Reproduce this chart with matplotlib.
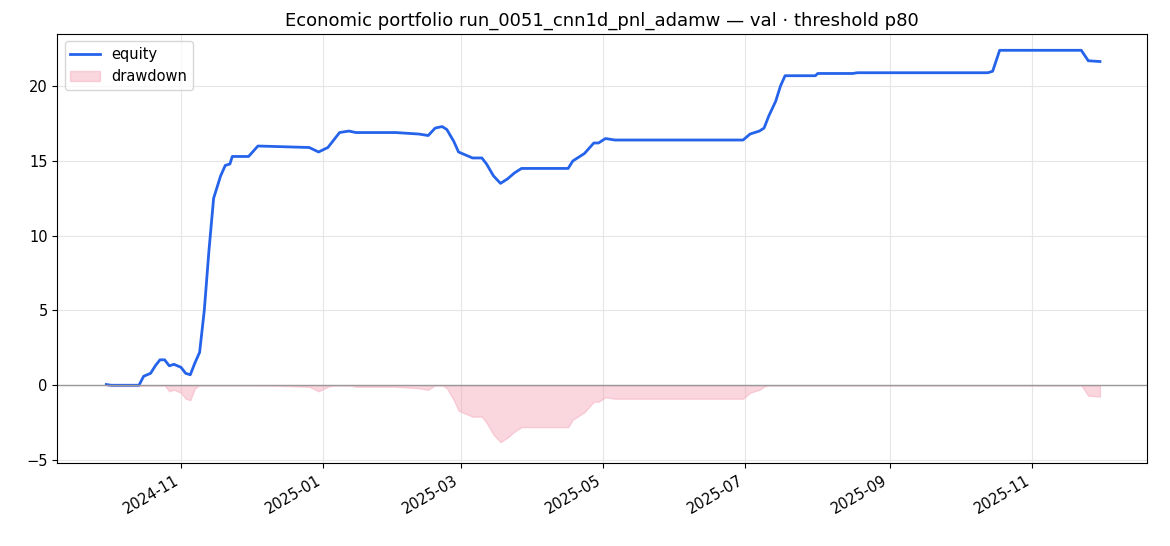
import matplotlib
matplotlib.use("Agg")
import matplotlib.pyplot as plt
import matplotlib.dates as mdates
import numpy as np
import pandas as pd

dates = ["2024-09-30","2024-10-02","2024-10-14","2024-10-16","2024-10-19","2024-10-21","2024-10-23",
"2024-10-25","2024-10-27","2024-10-29","2024-11-01","2024-11-03","2024-11-05","2024-11-07","2024-11-09",
"2024-11-11","2024-11-13","2024-11-15","2024-11-18","2024-11-20","2024-11-22","2024-11-23","2024-11-30",
"2024-12-04","2024-12-26","2024-12-30","2025-01-03","2025-01-06","2025-01-08","2025-01-12","2025-01-15",
"2025-02-01","2025-02-11","2025-02-15","2025-02-18","2025-02-21","2025-02-23","2025-02-26","2025-02-28",
"2025-03-03","2025-03-06","2025-03-10","2025-03-12","2025-03-15","2025-03-18","2025-03-21","2025-03-24",
"2025-03-27","2025-04-01","2025-04-16","2025-04-18","2025-04-23","2025-04-27","2025-04-29","2025-05-02",
"2025-05-06","2025-06-30","2025-07-03","2025-07-07","2025-07-09","2025-07-11","2025-07-14","2025-07-16",
"2025-07-18","2025-07-31","2025-08-01","2025-08-16","2025-08-18","2025-10-13","2025-10-15","2025-10-18",
"2025-11-22","2025-11-25","2025-11-30"]
equity = [0.05,0.0,0.0,0.6,0.8,1.3,1.7,1.7,1.3,1.4,1.2,0.8,0.7,1.5,2.2,
5.0,9.0,12.5,14.0,14.7,14.8,15.3,15.3,16.0,15.9,15.6,15.9,16.5,16.9,17.0,16.9,
16.9,16.8,16.7,17.2,17.3,17.1,16.3,15.6,15.4,15.2,15.2,14.8,14.0,13.5,13.8,14.2,
14.5,14.5,14.5,15.0,15.5,16.2,16.2,16.5,16.4,16.4,16.8,17.0,17.2,18.0,19.0,20.0,
20.7,20.7,20.85,20.85,20.9,20.9,21.0,22.4,22.4,21.7,21.65]

t = pd.to_datetime(dates)
eq = np.array(equity)
dd = eq - np.maximum.accumulate(eq)

fig, ax = plt.subplots(figsize=(11.7, 5.46), dpi=100)
ax.plot(t, eq, color="#2563eb", lw=2, label="equity")
ax.fill_between(t, dd, 0, color="#f4a6b8", alpha=0.45, label="drawdown")
ax.axhline(0, color="#999999", lw=1)
ax.grid(True, color="#e6e6e6", lw=0.8)
ax.set_axisbelow(True)
ax.set_ylim(-5.2, 23.5)
ax.set_yticks([-5, 0, 5, 10, 15, 20])
ax.set_xlim(pd.Timestamp("2024-09-09"), pd.Timestamp("2025-12-20"))
ax.xaxis.set_major_locator(mdates.MonthLocator(bymonth=[1,3,5,7,9,11]))
ax.xaxis.set_major_formatter(mdates.DateFormatter("%Y-%m"))
fig.autofmt_xdate()
ax.tick_params(labelsize=10.5)
ax.set_title("Economic portfolio run_0051_cnn1d_pnl_adamw — val · threshold p80", fontsize=13)
ax.legend(loc="upper left", fontsize=10.5)
fig.subplots_adjust(left=0.049, right=0.98, top=0.938, bottom=0.152)
fig.savefig("out.png", dpi=100)
